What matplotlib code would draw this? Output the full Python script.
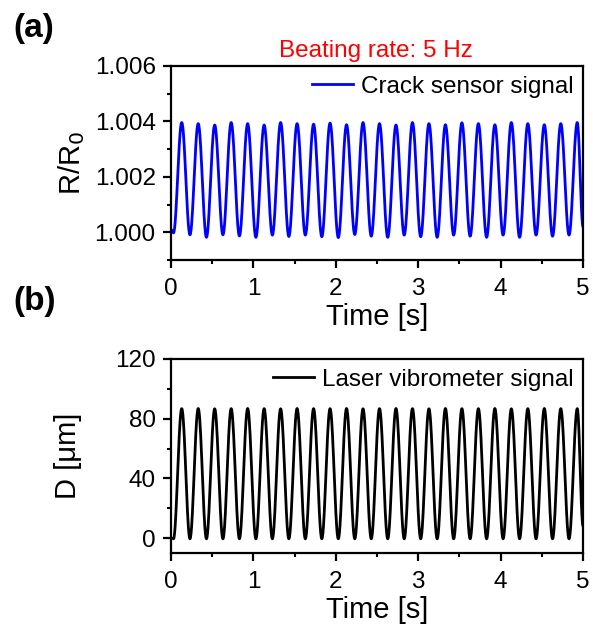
import numpy as np
import matplotlib.pyplot as plt
from matplotlib.ticker import MultipleLocator

plt.rcParams['font.family'] = ['Liberation Sans', 'DejaVu Sans']

# extremes of the recorded signals (time in s)
trough_t = [0.03, 0.23, 0.43, 0.63, 0.83, 1.03, 1.23, 1.43, 1.63, 1.83, 2.03, 2.23, 2.43,
            2.63, 2.83, 3.03, 3.23, 3.43, 3.63, 3.83, 4.03, 4.23, 4.43, 4.63, 4.83]
peak_t = [0.13, 0.33, 0.53, 0.73, 0.93, 1.13, 1.33, 1.53, 1.73, 1.93, 2.13, 2.33, 2.53,
          2.73, 2.93, 3.13, 3.33, 3.53, 3.73, 3.93, 4.13, 4.33, 4.53, 4.73, 4.93]

crack_start, crack_end = 1.0001, 1.0002
crack_trough = [0.99998, 0.99991, 0.99982, 0.99991, 0.99987, 0.99982, 0.99990, 0.99985,
                0.99990, 0.99984, 0.99981, 0.99992, 0.99986, 0.99982, 0.99990, 0.99984,
                0.99982, 0.99990, 0.99986, 0.99982, 0.99990, 0.99982, 0.99990, 0.99986, 0.99990]
crack_peak = [1.00396, 1.00392, 1.00387, 1.00396, 1.00392, 1.00387, 1.00396, 1.00392,
              1.00390, 1.00394, 1.00388, 1.00396, 1.00392, 1.00387, 1.00396, 1.00392,
              1.00388, 1.00395, 1.00392, 1.00388, 1.00396, 1.00392, 1.00388, 1.00392, 1.00396]

laser_start, laser_end = 0.0, 8.0
laser_trough = [-0.5] * 25
laser_peak = [86.7, 86.8, 86.6, 86.7, 86.8, 86.7, 86.6, 86.8, 86.7, 86.7, 86.8, 86.6, 86.7,
              86.8, 86.7, 86.6, 86.8, 86.7, 86.7, 86.8, 86.6, 86.7, 86.8, 86.7, 86.7]


def trace(start, troughs, peaks, end):
    # join successive extremes with half-cosine segments
    tk = [0.0]
    vk = [start]
    for a, b, ta, tb in zip(troughs, peaks, trough_t, peak_t):
        tk += [ta, tb]
        vk += [a, b]
    tk.append(5.0)
    vk.append(end)
    ts, vs = [], []
    for i in range(len(tk) - 1):
        s = np.linspace(0, 1, 30, endpoint=False)
        ts.append(tk[i] + (tk[i + 1] - tk[i]) * s)
        vs.append(vk[i] + (vk[i + 1] - vk[i]) * (1 - np.cos(np.pi * s)) / 2)
    ts.append([tk[-1]])
    vs.append([vk[-1]])
    return np.concatenate(ts), np.concatenate(vs)


fig = plt.figure(figsize=(5.93, 6.37), dpi=100)
ax1 = fig.add_axes([0.2884, 0.5918, 0.6948, 0.3046])
ax2 = fig.add_axes([0.2884, 0.1319, 0.6948, 0.3046])

t, r = trace(crack_start, crack_trough, crack_peak, crack_end)
ax1.plot(t, r, color='#0000ff', lw=2.0, label='Crack sensor signal')
t, d = trace(laser_start, laser_trough, laser_peak, laser_end)
ax2.plot(t, d, color='black', lw=2.0, label='Laser vibrometer signal')

ax1.set_ylim(0.999, 1.006)
ax1.set_yticks([1.000, 1.002, 1.004, 1.006])
ax1.set_yticklabels(['1.000', '1.002', '1.004', '1.006'])
ax1.yaxis.set_minor_locator(MultipleLocator(0.001))
ax1.set_ylabel('R/R$_0$', fontsize=21)
ax1.yaxis.set_label_coords(-0.205, 0.5)

ax2.set_ylim(-10, 120)
ax2.yaxis.set_major_locator(MultipleLocator(40))
ax2.yaxis.set_minor_locator(MultipleLocator(20))
ax2.set_ylabel('D [\u03bcm]', fontsize=21)
ax2.yaxis.set_label_coords(-0.215, 0.5)

for ax in (ax1, ax2):
    ax.set_xlim(0, 5)
    ax.xaxis.set_major_locator(MultipleLocator(1))
    ax.xaxis.set_minor_locator(MultipleLocator(0.5))
    ax.set_xlabel('Time [s]', fontsize=21, labelpad=2)
    ax.tick_params(which='major', direction='out', length=6, width=1.6, labelsize=17.5)
    ax.tick_params(which='minor', direction='out', length=3, width=1.5)
    ax.tick_params(axis='y', which='major', pad=5)
    ax.tick_params(axis='x', which='major', pad=7)
    for sp in ax.spines.values():
        sp.set_linewidth(1.6)
    ax.legend(loc='upper right', frameon=False, fontsize=17.5, handlelength=1.7,
              handletextpad=0.3, borderaxespad=0.1, borderpad=0.3)

fig.text(0.634, 0.92, 'Beating rate: 5 Hz', color='red', fontsize=17.5, ha='center', va='center')
fig.text(0.022, 0.955, '(a)', fontsize=24, fontweight='bold', va='center')
fig.text(0.022, 0.527, '(b)', fontsize=24, fontweight='bold', va='center')

fig.savefig('out.png', dpi=100)
